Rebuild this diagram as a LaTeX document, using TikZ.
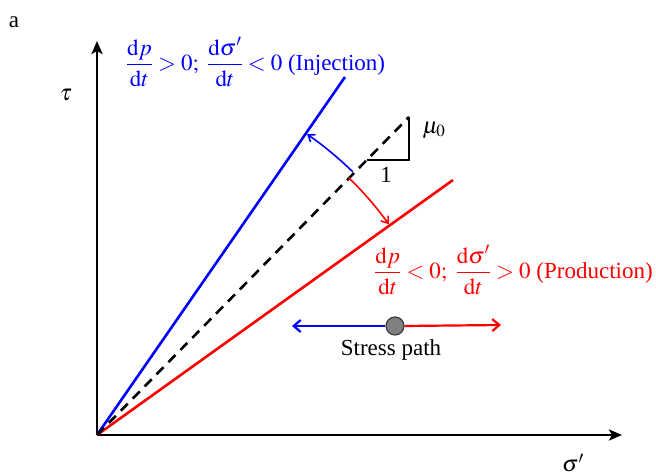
\documentclass[tikz,border=0pt]{standalone}
\usepackage{mathptmx}
\usepackage[no-math]{fontspec}
\setmainfont{Liberation Serif}
\usetikzlibrary{arrows.meta,calc}
\definecolor{injblue}{RGB}{0,0,255}
\definecolor{prodred}{RGB}{255,0,0}
\definecolor{dotgray}{RGB}{128,128,128}
\begin{document}
\begin{tikzpicture}[x=1pt,y=1pt,
  lbl/.style={font=\fontsize{23}{27}\selectfont, inner sep=0pt},
  axisline/.style={line width=2.8pt, -{Stealth[length=13pt,width=11pt,inset=3pt]}},
  stressline/.style={line width=2.6pt},
  arcarrow/.style={line width=1.6pt, -{Straight Barb[length=6pt,width=9pt]}},
  patharrow/.style={line width=2.2pt, -{Straight Barb[length=7pt,width=12pt]}}]
\useasboundingbox (0,0) rectangle (656,473);
% key points
\coordinate (O) at (97,38);
\coordinate (ytop) at (97,432);
\coordinate (xend) at (622,38);
\coordinate (bend) at (345,396);
\coordinate (rend) at (453,293);
\coordinate (dend) at (409,356);
\coordinate (tbr) at (409,313);
\coordinate (tl) at (367,313);
% axes
\draw[axisline] (O) -- (ytop);
\draw[axisline] (O) -- (xend);
% lines
\draw[stressline, injblue] (O) -- (bend);
\draw[stressline, prodred] (O) -- (rend);
\draw[line width=2.6pt, dash pattern=on 10pt off 7pt] (O) -- (dend);
% slope triangle
\draw[line width=2.4pt] (dend) -- (tbr) -- (tl);
\node[lbl] (mu) at (434,343) {$\mu_0$};
\node[lbl] (one) at (386,298) {1};
% arcs
\draw[arcarrow, injblue] ($(O)+(45.8:367)$) arc[start angle=45.8, end angle=55.2, radius=362];
\draw[arcarrow, prodred] ($(O)+(45.6:360)$) arc[start angle=45.6, end angle=35.7, radius=355];
% labels
\node[lbl, text=injblue] (inj) at (255.5,411) {$\displaystyle\frac{\mathrm{d}p}{\mathrm{d}t}>0;\ \frac{\mathrm{d}\sigma'}{\mathrm{d}t}<0$ (Injection)};
\node[lbl, text=prodred] (prod) at (513.5,203) {$\displaystyle\frac{\mathrm{d}p}{\mathrm{d}t}<0;\ \frac{\mathrm{d}\sigma'}{\mathrm{d}t}>0$ (Production)};
% stress path
\node[circle, draw={rgb,255:red,60;green,60;blue,60}, line width=1.2pt, fill=dotgray, minimum size=18pt, inner sep=0pt] (dot) at (395,147) {};
\coordinate (pleft) at (292,147);
\coordinate (pright) at (501,148);
\draw[patharrow, injblue] (dot.west) -- (pleft);
\draw[patharrow, prodred] (dot.east) -- (pright);
\node[lbl] (sp) at (391,123) {Stress path};
% axis labels
\node[lbl] (tau) at (66,378) {$\tau$};
\node[lbl] (sig) at (573,10) {$\sigma'$};
\node[lbl] (a) at (14,451) {a};
\end{tikzpicture}
\end{document}
